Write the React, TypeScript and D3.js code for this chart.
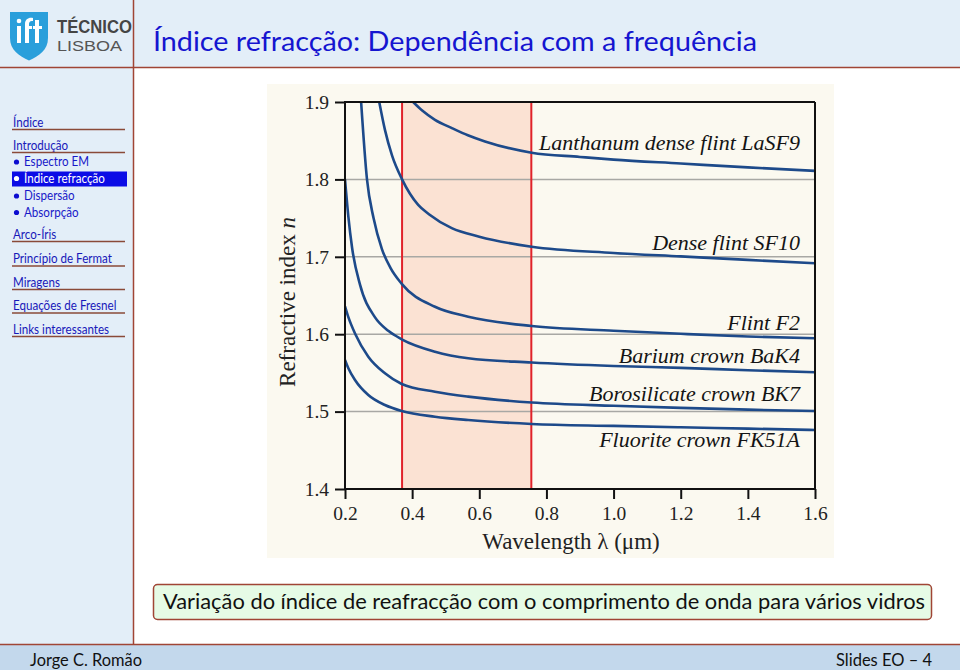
import React, { useEffect, useRef } from "react";
import * as d3 from "d3";

// ---------- data ----------
const xTicks = [0.2, 0.4, 0.6, 0.8, 1.0, 1.2, 1.4, 1.6];
const yTicks = [1.4, 1.5, 1.6, 1.7, 1.8, 1.9];
const gridValues = [1.5, 1.6, 1.7, 1.8];
const visibleBand = [0.37, 0.755];

const glassNames = [
  "Lanthanum dense flint LaSF9",
  "Dense flint SF10",
  "Flint F2",
  "Barium crown BaK4",
  "Borosilicate crown BK7",
  "Fluorite crown FK51A",
];

const lasf9: [number, number][] = [
  [0.403, 1.9], [0.43, 1.889], [0.468, 1.877], [0.52, 1.866], [0.566, 1.857],
  [0.617, 1.849], [0.756, 1.8345], [0.9, 1.829], [1.0, 1.8255], [1.2, 1.8205],
  [1.4, 1.8155], [1.6, 1.811],
];
const sf10: [number, number][] = [
  [0.302, 1.9], [0.319, 1.864], [0.34, 1.831], [0.37, 1.8], [0.418, 1.767],
  [0.45, 1.755], [0.518, 1.737], [0.6, 1.726], [0.756, 1.713], [1.0, 1.705],
  [1.2, 1.7005], [1.4, 1.696], [1.6, 1.6916],
];
const f2: [number, number][] = [
  [0.248, 1.9], [0.2655, 1.8], [0.285, 1.75], [0.31, 1.71], [0.335, 1.686],
  [0.369, 1.665], [0.468, 1.6355], [0.567, 1.6226], [0.756, 1.6106],
  [1.0, 1.6045], [1.2, 1.6005], [1.4, 1.597], [1.6, 1.5947],
];
const bak4: [number, number][] = [
  [0.2, 1.8], [0.21, 1.752], [0.221, 1.712], [0.2447, 1.664], [0.289, 1.622],
  [0.33, 1.604], [0.369, 1.5934], [0.468, 1.5774], [0.567, 1.5689], [0.756, 1.5635],
  [1.0, 1.559], [1.2, 1.5565], [1.4, 1.5535], [1.6, 1.5508],
];
const bk7: [number, number][] = [
  [0.2, 1.636], [0.21, 1.622], [0.2298, 1.601], [0.2694, 1.571], [0.319, 1.5495],
  [0.369, 1.5357], [0.468, 1.5257], [0.567, 1.5193], [0.756, 1.5118],
  [1.0, 1.5075], [1.2, 1.5048], [1.4, 1.5025], [1.6, 1.5008],
];
const fk51a: [number, number][] = [
  [0.2, 1.5667], [0.21, 1.556], [0.2298, 1.5408], [0.2694, 1.5214], [0.319, 1.5085],
  [0.369, 1.5008], [0.468, 1.4934], [0.567, 1.4891], [0.756, 1.484],
  [1.0, 1.4815], [1.2, 1.4797], [1.4, 1.478], [1.6, 1.4762],
];
const series = [lasf9, sf10, f2, bak4, bk7, fk51a];

const slideTitle = "Índice refracção: Dependência com a frequência";
const caption = "Variação do índice de reafracção com o comprimento de onda para vários vidros";
const author = "Jorge C. Romão";
const slideNo = "Slides EO – 4";
const navItems: { text: string; kind: "head" | "sub" | "active" }[] = [
  { text: "Índice", kind: "head" },
  { text: "Introdução", kind: "head" },
  { text: "Espectro EM", kind: "sub" },
  { text: "Índice refracção", kind: "active" },
  { text: "Dispersão", kind: "sub" },
  { text: "Absorpção", kind: "sub" },
  { text: "Arco-Íris", kind: "head" },
  { text: "Princípio de Fermat", kind: "head" },
  { text: "Miragens", kind: "head" },
  { text: "Equações de Fresnel", kind: "head" },
  { text: "Links interessantes", kind: "head" },
];

// ---------- layout ----------
const navBaselines = [126.5, 149.5, 166, 182.5, 200, 216.5, 238.5, 263, 286.5, 310, 333.5];
const labelBaselines = [150, 250, 330, 363, 401, 447];

const BORDER = "#a04535";
const PANEL = "#e3eef8";

export default function App() {
  const x = d3.scaleLinear().domain([0.2, 1.6]).range([345, 815]);
  const y = d3.scaleLinear().domain([1.4, 1.9]).range([489, 102]);
  const gx = useRef<SVGGElement>(null);
  const gy = useRef<SVGGElement>(null);

  useEffect(() => {
    const ax = d3.axisBottom(x).tickValues(xTicks).tickSize(10).tickPadding(7)
      .tickFormat(d3.format(".1f") as any);
    const g = d3.select(gx.current!);
    g.call(ax as any);
    g.select(".domain").remove();
    g.selectAll(".tick line").attr("stroke", "#111").attr("stroke-width", 2);
    g.selectAll(".tick text").attr("font-family", "'Liberation Serif', serif")
      .attr("font-size", 19.5).attr("fill", "#222");

    const ay = d3.axisLeft(y).tickValues(yTicks).tickSize(10).tickPadding(6)
      .tickFormat(d3.format(".1f") as any);
    const h = d3.select(gy.current!);
    h.call(ay as any);
    h.select(".domain").remove();
    h.selectAll(".tick line").attr("stroke", "#111").attr("stroke-width", 2);
    h.selectAll(".tick text").attr("font-family", "'Liberation Serif', serif")
      .attr("font-size", 19.5).attr("fill", "#222");
  }, []);

  const line = d3.line<[number, number]>()
    .x((d) => x(d[0]))
    .y((d) => y(d[1]))
    .curve(d3.curveMonotoneX);

  const [x0, x1] = x.range();
  const [yb, yt] = y.range();

  return (
    <svg width={960} height={670} style={{ position: "fixed", left: 0, top: 0, background: "#fff" }}
      fontFamily="Lato, 'DejaVu Sans', sans-serif">
      <defs>
        <clipPath id="plotclip">
          <rect x={x0} y={yt} width={x1 - x0} height={yb - yt} />
        </clipPath>
      </defs>
      {/* header & sidebar */}
      <rect x={0} y={0} width={960} height={67} fill={PANEL} />
      <rect x={0} y={67} width={133} height={578} fill={PANEL} />
      <line x1={0} x2={960} y1={67.5} y2={67.5} stroke={BORDER} strokeWidth={1.5} />
      <line x1={133.5} x2={133.5} y1={0} y2={645} stroke={BORDER} strokeWidth={1.5} />

      {/* logo */}
      <path d="M10,12 H48 V38 C48,50 39,56 29,60.5 C19,56 10,50 10,38 Z" fill="#2a9fdb" />
      <rect x={17} y={26} width={4} height={17} fill="#fff" />
      <circle cx={19} cy={21} r={2.3} fill="#fff" />
      <path d="M25,43 V24 C25,19 29,17 33,18 L33,21 C30,20.5 29,22 29,24 V26 H32 V29 H29 V43 Z" fill="#fff" />
      <path d="M35,20 H39 V26 H42 V29 H39 V43 H35 V29 H33 V26 H35 Z" fill="#fff" />
      <text x={57} y={33} fontSize={18} fontWeight={700} fill="#454545" fontFamily="'Liberation Sans', sans-serif"
        textLength={75} lengthAdjust="spacingAndGlyphs">TÉCNICO</text>
      <text x={57} y={50.5} fontSize={15} fill="#555" fontFamily="'Liberation Sans', sans-serif"
        textLength={65} lengthAdjust="spacingAndGlyphs">LISBOA</text>

      {/* title */}
      <text x={153} y={51} fontSize={26} fill="#1515d0" textLength={604} lengthAdjust="spacingAndGlyphs">
        {slideTitle}
      </text>

      {/* navigation */}
      {navItems.map((it, i) => {
        const by = navBaselines[i];
        if (it.kind === "head") {
          return (
            <g key={i}>
              <text transform={`translate(13,${by}) scale(0.86,1)`} fontSize={13.5} fill="#1818b8">{it.text}</text>
              <line x1={12} x2={125} y1={by + 3} y2={by + 3} stroke="#8a4a38" strokeWidth={1.6} />
            </g>
          );
        }
        const active = it.kind === "active";
        return (
          <g key={i}>
            {active && <rect x={12} y={by - 11} width={115} height={15} fill="#0c0ce6" />}
            <circle cx={16.5} cy={by - 4} r={2.6} fill={active ? "#fff" : "#0c0cd0"} />
            <text transform={`translate(24,${by}) scale(0.86,1)`} fontSize={13.5}
              fill={active ? "#fff" : "#1818c8"}>{it.text}</text>
          </g>
        );
      })}

      {/* chart image background */}
      <rect x={267} y={84} width={567} height={474} fill="#fbf9f0" />
      <rect x={x(visibleBand[0])} y={yt} width={x(visibleBand[1]) - x(visibleBand[0])} height={yb - yt}
        fill="#fbe2d3" />
      {gridValues.map((v) => (
        <line key={v} x1={x0} x2={x1} y1={y(v)} y2={y(v)} stroke="#a8a8a4" strokeWidth={1.5} />
      ))}
      {visibleBand.map((v) => (
        <line key={v} x1={x(v)} x2={x(v)} y1={yt} y2={yb} stroke="#e0222a" strokeWidth={2} />
      ))}
      <g clipPath="url(#plotclip)">
        {series.map((s, i) => (
          <path key={i} d={line(s) || ""} fill="none" stroke="#1d4a8a" strokeWidth={2.6} />
        ))}
      </g>
      {/* frame */}
      <line x1={x0} x2={x1} y1={yt} y2={yt} stroke="#111" strokeWidth={2} />
      <line x1={x1} x2={x1} y1={yt} y2={yb} stroke="#111" strokeWidth={2} />
      <line x1={x0} x2={x0} y1={yt - 1} y2={yb + 1} stroke="#111" strokeWidth={2} />
      <line x1={x0} x2={x1 + 1} y1={yb} y2={yb} stroke="#111" strokeWidth={2} />
      <g ref={gx} transform={`translate(0,${yb})`} />
      <g ref={gy} transform={`translate(${x0},0)`} />

      {glassNames.map((n, i) => (
        <text key={n} x={800} y={labelBaselines[i]} textAnchor="end" fontSize={22} fontStyle="italic"
          fontFamily="'Liberation Serif', serif" fill="#141414">{n}</text>
      ))}
      <text transform="translate(295,302) rotate(-90)" textAnchor="middle" fontSize={23}
        fontFamily="'Liberation Serif', serif" fill="#222">
        Refractive index <tspan fontStyle="italic">n</tspan>
      </text>
      <text x={571} y={549} textAnchor="middle" fontSize={23} fontFamily="'Liberation Serif', serif" fill="#222">
        Wavelength λ (μm)
      </text>

      {/* caption */}
      <rect x={153.5} y={584.5} width={778} height={35} rx={4} fill="#e6fbe6" stroke={BORDER} strokeWidth={1.5} />
      <text x={163} y={609} fontSize={21.5} fill="#111" textLength={762} lengthAdjust="spacingAndGlyphs">
        {caption}
      </text>

      {/* footer */}
      <rect x={0} y={645} width={960} height={25} fill="#c3d8ec" />
      <line x1={0} x2={960} y1={644.5} y2={644.5} stroke={BORDER} strokeWidth={1.5} />
      <text x={30} y={666} fontSize={16.5} fill="#111" textLength={112} lengthAdjust="spacingAndGlyphs">{author}</text>
      <text x={932} y={666} fontSize={16.5} fill="#111" textAnchor="end" textLength={96}
        lengthAdjust="spacingAndGlyphs">{slideNo}</text>
    </svg>
  );
}
